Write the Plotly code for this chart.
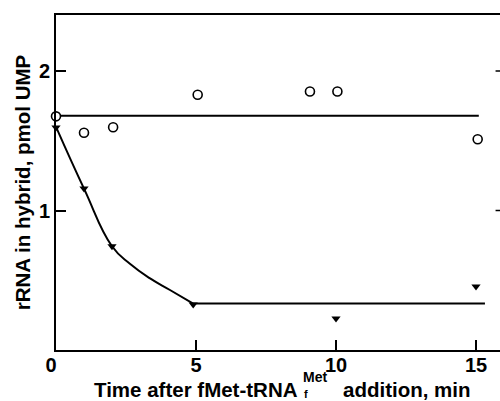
import plotly.graph_objects as go

# Data
circle_t = [0, 1.0, 2.04, 5.06, 9.07, 10.05, 15.06]
circle_v = [1.675, 1.557, 1.597, 1.83, 1.853, 1.853, 1.511]
circle_line_t = [0, 15.1]
circle_line_v = [1.68, 1.68]

tri_t = [0, 1.0, 2.0, 4.9, 10.0, 15.0]
tri_v = [1.595, 1.157, 0.744, 0.326, 0.226, 0.455]
curve_t = [0, 1.0, 2.0, 2.64, 3.36, 4.07, 4.9]
curve_v = [1.60, 1.157, 0.744, 0.618, 0.513, 0.43, 0.333]
flat_t = [4.9, 15.32]
flat_v = [0.333, 0.333]

x_ticks = [0, 5, 10, 15]
x_labels = ["0\u2002", "5", "10", "15"]
y_ticks = [1, 2]

FONT = "Liberation Sans"
fig = go.Figure()
fig.add_trace(go.Scatter(x=circle_line_t, y=circle_line_v, mode="lines",
                         line=dict(color="black", width=2), cliponaxis=False))
fig.add_trace(go.Scatter(x=curve_t, y=curve_v, mode="lines",
                         line=dict(color="black", width=2, shape="spline", smoothing=1.3),
                         cliponaxis=False))
fig.add_trace(go.Scatter(x=flat_t, y=flat_v, mode="lines",
                         line=dict(color="black", width=2), cliponaxis=False))
fig.add_trace(go.Scatter(x=tri_t, y=tri_v, mode="markers",
                         marker=dict(symbol="triangle-down", size=8, color="black"),
                         cliponaxis=False))
fig.add_trace(go.Scatter(x=circle_t, y=circle_v, mode="markers",
                         marker=dict(symbol="circle", size=9, color="white",
                                     line=dict(color="black", width=1.6)),
                         cliponaxis=False))

fig.update_layout(
    width=500, height=401,
    margin=dict(l=56, r=0, t=15, b=51),
    paper_bgcolor="white", plot_bgcolor="white",
    showlegend=False,
    font=dict(family=FONT, color="black"),
    xaxis=dict(range=[0, 444 / 28], tickvals=x_ticks, ticktext=x_labels,
               ticks="inside", ticklen=10, ticklabelstandoff=-4,
               tickwidth=1.5, tickcolor="black", showline=True, linewidth=2,
               linecolor="black", mirror=True, showgrid=False, zeroline=False,
               tickfont=dict(size=20, family=FONT, weight="bold")),
    yaxis=dict(range=[0, 335 / 139.5], tickvals=y_ticks, ticks="inside", ticklen=10,
               tickwidth=1.5, tickcolor="black", showline=True, linewidth=2,
               linecolor="black", showgrid=False, zeroline=False,
               tickfont=dict(size=20, family=FONT, weight="bold"),
               title=dict(text="rRNA in hybrid, pmol UMP", standoff=3,
                          font=dict(size=20.5, family=FONT, weight="bold"))),
)

# right-side inner ticks (axis decoration)
for yv in y_ticks:
    fig.add_shape(type="line", xref="paper", yref="y", x0=0.99, x1=1.0, y0=yv, y1=yv,
                  line=dict(color="black", width=1.5))

# x-axis title with stacked sub/superscript
tf = dict(size=20.5, family=FONT, weight="bold", color="black")
fig.add_annotation(xref="paper", yref="paper", x=(300 - 56) / 444, y=-(389 - 350) / 335,
                   text="Time after fMet-tRNA", showarrow=False, xanchor="right",
                   yanchor="middle", font=tf)
fig.add_annotation(xref="paper", yref="paper", x=(301 - 56) / 444, y=-(377 - 350) / 335,
                   text="Met", showarrow=False, xanchor="left", yanchor="middle",
                   font=dict(size=14, family=FONT, weight="bold", color="black"))
fig.add_annotation(xref="paper", yref="paper", x=(302 - 56) / 444, y=-(394 - 350) / 335,
                   text="f", showarrow=False, xanchor="left", yanchor="middle",
                   font=dict(size=11, family=FONT, weight="bold", color="black"))
fig.add_annotation(xref="paper", yref="paper", x=(341 - 56) / 444, y=-(389 - 350) / 335,
                   text="addition, min", showarrow=False, xanchor="left",
                   yanchor="middle", font=tf)

fig.write_html("out.html")
